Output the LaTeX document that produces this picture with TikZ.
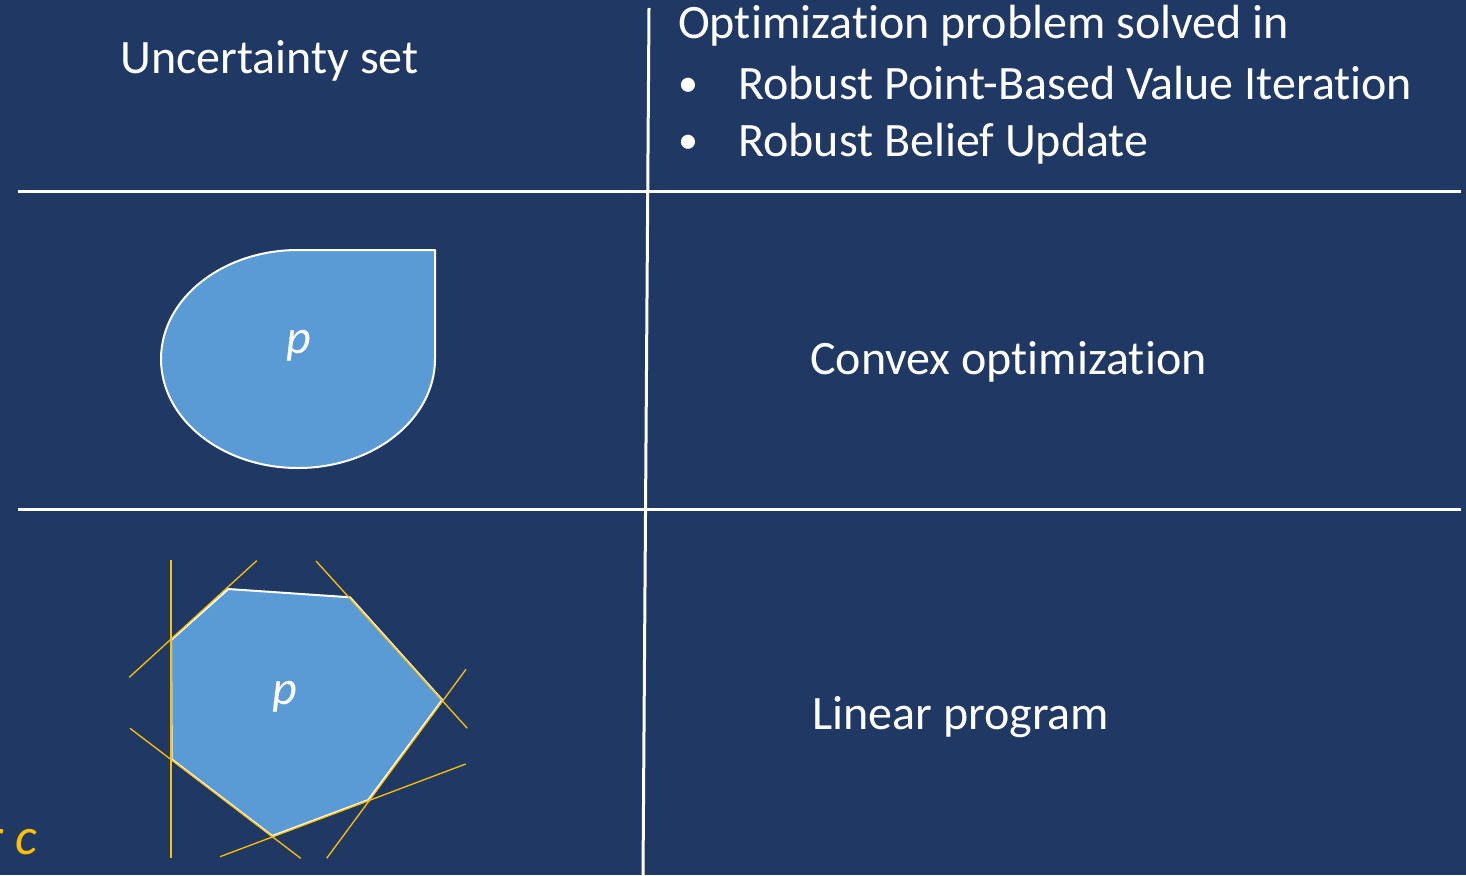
\documentclass[tikz,border=0pt]{standalone}
\usepackage{fontspec}
\setmainfont{Carlito}[Ligatures=NoCommon]
\definecolor{bg}{HTML}{203864}
\definecolor{fillb}{HTML}{5B9BD5}
\definecolor{gold}{HTML}{FFC000}
\begin{document}
\begin{tikzpicture}[x=1pt,y=-1pt,
  txt/.style={text=white, font=\fontsize{48}{56}\selectfont, inner sep=0pt, anchor=base west},
  bul/.style={text=white, font=\fontsize{40}{48}\selectfont, inner sep=0pt, anchor=base west},
  ptxt/.style={text=white, font=\fontsize{48}{56}\selectfont\itshape, inner sep=0pt, anchor=base},
  rule/.style={draw=white, line width=3pt},
  setshape/.style={fill=fillb, draw=white, line width=2pt, line join=round},
  tang/.style={draw=gold, line width=1.3pt}]
\fill[bg] (0,0) rectangle (1466,875);
\useasboundingbox (0,0) rectangle (1466,875);

% table rules
\coordinate (h1l) at (18,191); \coordinate (h1r) at (1461,191);
\coordinate (h2l) at (18,509); \coordinate (h2r) at (1461,509);
\coordinate (vt) at (649,8); \coordinate (vb) at (643,875);
\draw[rule] (h1l) -- (h1r);
\draw[rule] (h2l) -- (h2r);
\draw[rule] (vt) -- (vb);

% header texts
\node[txt] (unc) at (120,74) {Uncertainty set};
\node[txt] (opt) at (678,39) {Optimization problem solved in};
\node[bul] (b1) at (678,96) {•};
\node[txt] (rp) at (738,99) {Robust Point-Based Value Iteration};
\node[bul] (b2) at (678,153) {•};
\node[txt] (rb) at (738,156) {Robust Belief Update};
\node[txt] (cvx) at (810,374) {Convex optimization};
\node[txt] (lin) at (812,729) {Linear program};

% teardrop
\coordinate (T) at (298,250); \coordinate (TR) at (435,250);
\coordinate (R) at (435,359); \coordinate (B) at (298,468); \coordinate (L) at (161,359);
\path[setshape] (T) -- (TR) -- (R)
  .. controls (435,419.2) and (373.7,468) .. (B)
  .. controls (222.3,468) and (161,419.2) .. (L)
  .. controls (161,298.8) and (222.3,250) .. (T) -- cycle;
\node[ptxt] (p1) at (299,353) {p};

% polygon
\coordinate (A) at (228.3,589); \coordinate (Bp) at (350,597.3);
\coordinate (C) at (442.3,700); \coordinate (D) at (368.3,800);
\coordinate (E) at (272.3,836); \coordinate (F) at (171.7,759.3);
\coordinate (G) at (171,640);
\path[setshape] (A) -- (Bp) -- (C) -- (D) -- (E) -- (F) -- (G) -- cycle;
\node[ptxt] (p2) at (285,704) {p};

% supporting lines
\coordinate (l1a) at (171,560); \coordinate (l1b) at (171,858);
\coordinate (l2a) at (129.3,677.3); \coordinate (l2b) at (256.7,560.7);
\coordinate (l3a) at (316,561); \coordinate (l3b) at (467.3,728.3);
\coordinate (l4a) at (466,669.3); \coordinate (l4b) at (326.7,858.3);
\coordinate (l5a) at (465.7,764); \coordinate (l5b) at (220,856.7);
\coordinate (l6a) at (130,728.3); \coordinate (l6b) at (300.7,858.3);
\draw[tang] (l1a) -- (l1b);
\draw[tang] (l2a) -- (l2b);
\draw[tang] (l3a) -- (l3b);
\draw[tang] (l4a) -- (l4b);
\draw[tang] (l5a) -- (l5b);
\draw[tang] (l6a) -- (l6b);

% cut-off label
\node[text=gold, font=\fontsize{52}{60}\selectfont\itshape, inner sep=0pt, anchor=base east] (cl) at (37,854) {r c};
\end{tikzpicture}
\end{document}
